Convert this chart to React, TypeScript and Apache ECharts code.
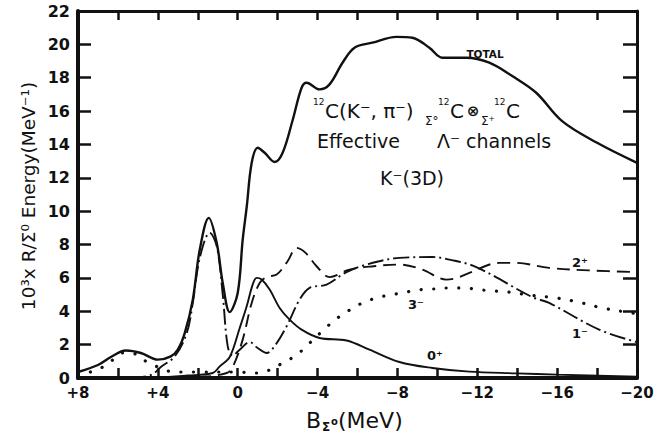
import React, { useEffect, useRef } from "react";
import * as echarts from "echarts";

// Binding energy B (MeV) and strength values (10^3 x R / MeV) for each channel
const totalB = [8, 7.0, 6.35, 5.6, 4.85, 4.0, 3.35, 3.0, 2.65, 2.25, 1.9, 1.45, 1.05, 0.75, 0.4, 0.0, -0.25, -0.45, -0.7, -1.0, -1.35, -1.85, -2.25, -2.75, -3.2, -3.45, -4.1, -4.6, -5.25, -5.85, -6.75, -7.95, -8.75, -9.6, -10.25, -11.45, -12.6, -13.75, -14.95, -16.25, -18.0, -20];
const totalV = [0.36, 0.78, 1.26, 1.65, 1.5, 1.1, 1.3, 1.7, 2.7, 4.7, 7.7, 9.6, 8.1, 5.7, 3.95, 5.1, 8.3, 10.25, 12.9, 13.8, 13.5, 12.95, 13.5, 15.45, 17.4, 17.7, 17.3, 17.6, 18.9, 19.8, 20.1, 20.45, 20.4, 19.8, 19.2, 19.2, 18.9, 18.1, 17.1, 15.4, 14.1, 12.9];

const zeroPlusB = [8, 4, 2.5, 1.25, 0.9, 0.4, -0.1, -0.45, -0.75, -0.95, -1.2, -1.6, -2.1, -2.6, -3.2, -4.1, -5.45, -6.6, -8.1, -9.75, -11.6, -13.95, -16, -20];
const zeroPlusV = [0.05, 0.05, 0.15, 0.3, 0.7, 1.26, 3.0, 4.3, 5.6, 6.0, 5.9, 5.3, 4.2, 3.5, 2.9, 2.4, 2.25, 1.7, 0.96, 0.6, 0.38, 0.28, 0.2, 0.08];

const oneMinusB = [8, 5, 4.3, 3.85, 3.15, 2.55, 2.25, 1.9, 1.4, 1.05, 0.75, 0.5, 0.25, -0.1, -0.6, -1.0, -1.45, -1.9, -2.45, -3.1, -3.6, -4.45, -5.45, -6.45, -8.1, -9.75, -10.6, -11.95, -14.75, -15.6, -18.1, -20];
const oneMinusV = [0.02, 0.05, 0.2, 0.66, 1.3, 2.7, 4.5, 7.2, 8.7, 7.9, 5.0, 1.9, 1.35, 1.7, 2.15, 1.8, 1.5, 2.0, 3.1, 4.7, 5.4, 5.6, 6.35, 6.8, 7.2, 7.25, 7.1, 6.65, 4.85, 4.5, 2.9, 2.15];

const twoPlusB = [8, 2, 0.55, 0.25, -0.25, -0.7, -1.1, -1.45, -1.95, -2.5, -2.95, -3.4, -3.95, -4.6, -5.6, -6.8, -8.1, -9.25, -10.45, -11.0, -11.6, -13.1, -13.95, -15.6, -17.6, -20];
const twoPlusV = [0.02, 0.05, 0.3, 0.66, 2.3, 4.5, 5.7, 6.05, 6.2, 7.0, 7.8, 7.5, 6.7, 6.05, 6.5, 6.7, 6.8, 6.5, 5.9, 6.0, 6.3, 6.9, 6.9, 6.6, 6.45, 6.35];

const threeMinusB = [8, 7.6, 7.0, 6.35, 5.75, 5.15, 4.6, 4.0, 3.4, 2.75, 1.9, 0.05, -0.95, -1.6, -2.25, -2.95, -3.5, -4.45, -5.0, -5.6, -6.25, -6.95, -7.6, -8.25, -8.95, -9.75, -10.6, -11.25, -12.25, -13.6, -14.6, -15.95, -17.25, -18.25, -19.45, -20];
const threeMinusV = [0.2, 0.3, 0.5, 1.0, 1.5, 1.45, 1.0, 0.66, 0.4, 0.36, 0.36, 0.36, 0.3, 0.48, 0.9, 1.38, 1.98, 3.05, 3.6, 4.07, 4.5, 4.8, 4.97, 5.1, 5.27, 5.33, 5.4, 5.4, 5.27, 5.15, 4.97, 4.8, 4.5, 4.2, 3.95, 3.85];

const xMin = -20;
const xMax = 8;
const yMin = 0;
const yMax = 22;

const pairs = (xs: number[], ys: number[]) => xs.map((x, i) => [x, ys[i]]);

const INK = "#111";
const SANS = "DejaVu Sans";

const fmtX = (v: number) => {
  if (v % 4 !== 0) return "";
  if (v > 0) return "+" + v;
  if (v < 0) return "\u2212" + Math.abs(v);
  return "0";
};

const txt = (x: number, y: number, text: string, size: number, opts: any = {}) => ({
  type: "text",
  x,
  y,
  silent: true,
  style: {
    text,
    fill: INK,
    font: `${opts.weight || "normal"} ${size}px "${SANS}"`,
    textAlign: opts.align || "left",
    textVerticalAlign: "middle",
  },
  ...(opts.rotation ? { rotation: opts.rotation } : {}),
});

export default function App() {
  const ref = useRef<HTMLDivElement>(null);

  useEffect(() => {
    const chart = echarts.init(ref.current!, null, { renderer: "svg" });

    const lineSeries = (data: number[][], lineStyle: any) => ({
      type: "line",
      data,
      smooth: 0.35,
      symbol: "none",
      silent: true,
      lineStyle: { color: INK, ...lineStyle },
    });

    const frameX = (position: string, width: number, tick: number, labels: boolean) => ({
      type: "value",
      min: xMin,
      max: xMax,
      interval: 2,
      inverse: true,
      position,
      axisLine: { onZero: false, lineStyle: { color: INK, width } },
      axisTick: { inside: true, length: tick, lineStyle: { color: INK, width: 2.5 } },
      axisLabel: labels
        ? {
            formatter: fmtX,
            color: INK,
            fontFamily: SANS,
            fontWeight: "bold",
            fontSize: 15,
            margin: 7,
            showMinLabel: true,
            showMaxLabel: true,
          }
        : { show: false },
      splitLine: { show: false },
    });

    const frameY = (position: string, width: number, tick: number, labels: boolean) => ({
      type: "value",
      min: yMin,
      max: yMax,
      interval: 2,
      position,
      axisLine: { onZero: false, lineStyle: { color: INK, width } },
      axisTick: { inside: true, length: tick, lineStyle: { color: INK, width: 2.5 } },
      axisLabel: labels
        ? { color: INK, fontFamily: SANS, fontWeight: "bold", fontSize: 16, margin: 8 }
        : { show: false },
      splitLine: { show: false },
    });

    chart.setOption({
      animation: false,
      backgroundColor: "#fff",
      grid: { left: 78, right: 26, top: 11, bottom: 64 },
      xAxis: [frameX("bottom", 4, 10, true), frameX("top", 3, 9, false)],
      yAxis: [frameY("left", 4, 13, true), frameY("right", 3, 14, false)],
      series: [
        lineSeries(pairs(totalB, totalV), { width: 2.4 }),
        lineSeries(pairs(zeroPlusB, zeroPlusV), { width: 1.9 }),
        lineSeries(pairs(oneMinusB, oneMinusV), { width: 1.9, type: [16, 4, 2, 4] }),
        lineSeries(pairs(twoPlusB, twoPlusV), { width: 1.9, type: [13, 7] }),
        lineSeries(pairs(threeMinusB, threeMinusV), { width: 3.2, type: [0.1, 12.5], cap: "round" }),
      ],
      graphic: [
        // axis titles
        txt(28, 196, "10\u00b3x R/\u03a3\u2070 Energy(MeV\u207b\u00b9)", 18.5, { align: "center", rotation: Math.PI / 2 }),
        txt(306, 420, "B", 22),
        txt(322, 427, "\u03a3", 12, { weight: "bold" }),
        txt(331, 421, "o", 10, { weight: "bold" }),
        txt(338, 420, "(MeV)", 22),
        // reaction annotation
        txt(313, 102, "12", 9),
        txt(325, 111, "C(K\u207b, \u03c0\u207b)", 20),
        txt(425, 121, "\u03a3\u00b0", 12),
        txt(438, 102, "12", 9),
        txt(450, 111, "C", 20),
        txt(473, 111, "\u2297", 15, { align: "center", weight: "bold" }),
        txt(481, 121, "\u03a3\u207a", 12),
        txt(494, 102, "12", 9),
        txt(506, 111, "C", 20),
        txt(317, 141, "Effective", 19),
        txt(437, 141, "\u039b\u207b channels", 19),
        txt(380, 178, "K\u207b(3D)", 19),
        // channel labels
        txt(485, 54, "TOTAL", 10.5, { align: "center", weight: "bold" }),
        txt(416, 304, "3\u207b", 13, { align: "center", weight: "bold" }),
        txt(435, 355, "0\u207a", 13, { align: "center", weight: "bold" }),
        txt(580, 333, "1\u207b", 13, { align: "center", weight: "bold" }),
        txt(580, 262, "2\u207a", 13, { align: "center", weight: "bold" }),
      ],
    });

    return () => chart.dispose();
  }, []);

  return (
    <div
      ref={ref}
      style={{ position: "fixed", left: 0, top: 0, width: 663, height: 442, background: "#fff" }}
    />
  );
}
